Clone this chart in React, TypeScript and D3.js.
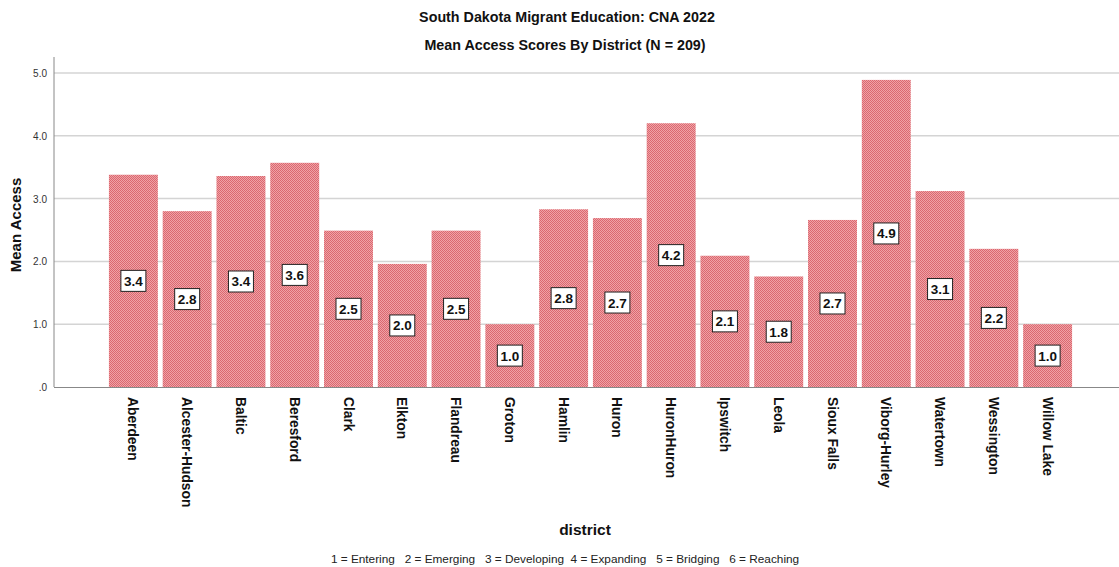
import React from 'react';
import * as d3 from 'd3';

const districts = [
  'Aberdeen', 'Alcester-Hudson', 'Baltic', 'Beresford', 'Clark', 'Elkton',
  'Flandreau', 'Groton', 'Hamlin', 'Huron', 'HuronHuron', 'Ipswitch',
  'Leola', 'Sioux Falls', 'Viborg-Hurley', 'Watertown', 'Wessington', 'Willow Lake',
];
const meanAccess = [
  3.38, 2.8, 3.36, 3.57, 2.49, 1.96, 2.49, 1.0, 2.83, 2.69, 4.2, 2.09,
  1.76, 2.66, 4.89, 3.12, 2.2, 1.0,
];
const yTicks = [0, 1, 2, 3, 4, 5];
const legendText = '1 = Entering   2 = Emerging   3 = Developing  4 = Expanding   5 = Bridging   6 = Reaching';

const W = 1119;
const H = 567;
const font = '"Liberation Sans", Arial, sans-serif';

const App: React.FC = () => {
  const x = d3.scaleBand<string>().domain(districts).range([106.5, 1074.5]).paddingInner(0.09).paddingOuter(0.045);
  const y = d3.scaleLinear().domain([0, 5]).range([387, 73]);
  const fmt = d3.format('.1f');
  const tickFmt = (v: number) => (v === 0 ? '.0' : d3.format('.1f')(v));

  return (
    <div style={{ position: 'absolute', left: 0, top: 0 }}>
      <svg width={W} height={H} style={{ display: 'block', fontFamily: font }}>
        <defs>
          <pattern id="dots" width="2" height="2" patternUnits="userSpaceOnUse">
            <rect width="2" height="2" fill="#f0a2a6" />
            <rect width="1" height="1" fill="#da6870" />
            <rect x="1" y="1" width="1" height="1" fill="#da6870" />
          </pattern>
        </defs>
        <rect width={W} height={H} fill="#fff" />

        {/* titles */}
        <text x={567} y={22} textAnchor="middle" fontSize={14.3} fontWeight="bold" fill="#111">
          South Dakota Migrant Education: CNA 2022
        </text>
        <text x={565} y={50} textAnchor="middle" fontSize={14.3} fontWeight="bold" fill="#111">
          Mean Access Scores By District (N = 209)
        </text>

        {/* gridlines */}
        {yTicks.filter(t => t > 0).map(t => (
          <line key={t} x1={54} x2={W} y1={y(t)} y2={y(t)} stroke="#d4d4d4" strokeWidth={1.5} />
        ))}

        {/* y axis */}
        <line x1={54} x2={54} y1={57} y2={387} stroke="#888" />
        {yTicks.map(t => (
          <text key={t} x={47} y={y(t) + 4} textAnchor="end" fontSize={10} fill="#333">
            {tickFmt(t)}
          </text>
        ))}
        <text transform="translate(21,225) rotate(-90)" textAnchor="middle" fontSize={15} fontWeight="bold" fill="#111">
          Mean Access
        </text>

        {/* bars */}
        {districts.map((d, i) => (
          <rect key={d} x={x(d)} y={y(meanAccess[i])} width={x.bandwidth()} height={y(0) - y(meanAccess[i])}
            fill="url(#dots)" />
        ))}

        {/* x axis */}
        <line x1={54} x2={W} y1={387.5} y2={387.5} stroke="#888" />

        {/* value labels */}
        {districts.map((d, i) => {
          const cx = (x(d) || 0) + x.bandwidth() / 2;
          const cy = y(meanAccess[i] / 2);
          return (
            <g key={d}>
              <rect x={cx - 12.5} y={cy - 10.5} width={25} height={21} fill="#fff" stroke="#222" strokeWidth={1} />
              <text x={cx} y={cy + 5} textAnchor="middle" fontSize={13.5} fontWeight="bold" fill="#111">
                {fmt(meanAccess[i])}
              </text>
            </g>
          );
        })}

        {/* x tick labels */}
        {districts.map(d => {
          const cx = (x(d) || 0) + x.bandwidth() / 2;
          return (
            <text key={d} transform={`translate(${cx - 5},397) rotate(90)`} textAnchor="start" fontSize={13.8}
              fontWeight="bold" fill="#111">
              {d}
            </text>
          );
        })}

        <text x={585} y={535} textAnchor="middle" fontSize={15.5} fontWeight="bold" fill="#111">district</text>
        <text x={565} y={563} textAnchor="middle" fontSize={11.8} fill="#222" style={{ whiteSpace: 'pre' }}>
          {legendText}
        </text>
      </svg>
    </div>
  );
};

export default App;
